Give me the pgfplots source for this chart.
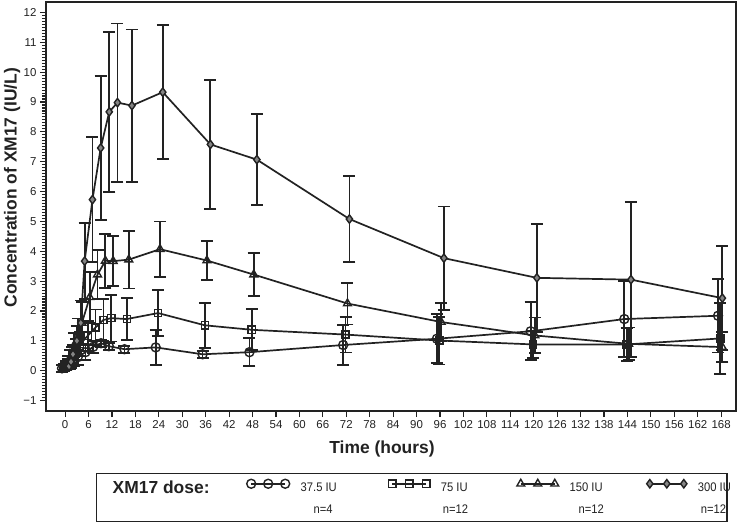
\documentclass[border=0pt]{standalone}
\usepackage{fontspec}
\setmainfont{Liberation Sans}
\newfontfamily\narrowfont[FakeStretch=0.9]{Liberation Sans}
\usepackage{pgfplots}
\pgfplotsset{compat=1.18}
\usepackage{pgfplotstable}
\definecolor{ink}{HTML}{222222}

% time (h, plotted with small group offset), mean, SD
\pgfplotstableread{
t m s
-0.8 0.08 0.12
-0.3 0.10 0.12
0.2 0.14 0.12
1.2 0.22 0.15
2.2 0.35 0.20
3.2 0.45 0.25
5.2 0.62 0.25
7.2 0.80 0.20
9.2 0.92 0.12
11.2 0.82 0.12
15.2 0.72 0.12
23.2 0.78 0.58
35.2 0.55 0.12
47.2 0.62 0.47
71.2 0.86 0.68
95.2 1.07 0.82
119.2 1.32 0.97
143.2 1.73 1.28
167.2 1.84 1.23
}\tabA
\pgfplotstableread{
t m s
-0.2 0.12 0.10
0.3 0.18 0.15
0.8 0.28 0.20
1.8 0.50 0.30
2.8 0.70 0.35
3.8 0.89 0.40
5.8 1.17 0.50
7.8 1.45 0.60
9.8 1.70 0.70
11.8 1.76 0.78
15.8 1.73 0.71
23.8 1.93 0.76
35.8 1.52 0.75
47.8 1.37 0.69
71.8 1.21 0.60
95.8 1.01 0.80
119.8 0.88 0.45
143.8 0.88 0.55
167.8 1.08 1.19
}\tabB
\pgfplotstableread{
t m s
0.3 0.12 0.10
0.8 0.25 0.15
1.3 0.45 0.25
2.3 0.85 0.40
3.3 1.20 0.55
4.3 1.60 0.70
6.3 2.46 0.85
8.3 3.22 0.82
10.3 3.68 0.90
12.3 3.67 0.83
16.3 3.72 0.97
24.3 4.07 0.93
36.3 3.69 0.66
48.3 3.22 0.73
72.3 2.25 0.70
96.3 1.63 0.65
120.3 1.18 0.60
144.3 0.90 0.55
168.3 0.79 0.50
}\tabC
\pgfplotstableread{
t m s
1.0 0.15 0.10
1.5 0.30 0.20
2.0 0.55 0.30
3.0 1.00 0.50
4.0 1.60 0.75
5.0 3.67 1.28
7.0 5.73 2.10
9.1 7.46 2.41
11.3 8.67 2.68
13.4 8.98 2.65
17.1 8.88 2.55
25.0 9.33 2.25
37.2 7.58 2.17
49.1 7.07 1.53
72.8 5.08 1.44
97.0 3.77 1.73
120.8 3.11 1.81
144.9 3.05 2.60
168.3 2.43 1.74
}\tabD

\begin{document}
\begin{tikzpicture}
\useasboundingbox (0,0) rectangle (742bp,522bp);
\begin{axis}[
  at={(46bp,111bp)}, anchor=south west,
  scale only axis, width=690bp, height=409bp,
  xmin=-4.9, xmax=171.8, ymin=-1.35, ymax=12.35,
  xtick={0,6,...,168},
  ytick={-1,0,...,12},
  yticklabels={−1,0,1,2,3,4,5,6,7,8,9,10,11,12},
  minor y tick num=9,
  tick align=outside, tick pos=left,
  major tick length=6bp, minor tick length=4bp,
  tick style={ink, line width=1.1bp},
  axis line style={ink, line width=1.4bp},
  ticklabel style={font=\fontsize{11.5}{13}\selectfont, text=ink},
  /pgf/number format/assume math mode=true,
  xlabel={Time (hours)},
  ylabel={Concentration of XM17 (IU/L)},
  label style={font=\bfseries\fontsize{17.5}{20}\selectfont, text=ink},
  xlabel style={at={(axis description cs:0.487,-0.093)}, anchor=center},
  ylabel style={at={(axis description cs:-0.049,0.546)}, anchor=center},
  every axis plot/.append style={ink, line width=1.7bp},
  error bars/y dir=both, error bars/y explicit,
  error bars/error bar style={ink, line width=1.8bp, solid},
  error bars/error mark options={ink, line width=1.8bp, mark size=6bp, rotate=90},
  legend columns=5,
  legend image code/.code={\draw[#1, line width=1.5bp] plot coordinates {(0bp,4bp) (17bp,4bp) (34bp,4bp)};},
  legend style={at={(axis description cs:0.0725,-0.1516)}, anchor=north west,
    draw=ink, line width=1.4bp, fill=white,
    font=\narrowfont\fontsize{12.5}{15}\selectfont, text=ink,
    inner xsep=5bp, inner ysep=5bp, column sep=0pt, row sep=6bp,
    /tikz/every odd column/.append style={column sep=9bp}},
  legend cell align=left,
]
\addlegendimage{empty legend}
\addlegendentry{\makebox[132bp][l]{\normalfont\bfseries\fontsize{17.5}{20}\selectfont XM17 dose:}}

\addplot[mark=o, mark size=4.5bp, mark options={solid, line width=1.4bp}]
  table[x=t, y=m, y error=s] {\tabA};
\addlegendentry{\makebox[86bp][l]{37.5 IU}}

\addplot[mark=square, mark size=3.6bp, mark options={solid, line width=1.4bp}]
  table[x=t, y=m, y error=s] {\tabB};
\addlegendentry{\makebox[74bp][l]{75 IU}}

\addplot[mark=triangle, mark size=4.5bp, mark options={solid, line width=1.4bp}]
  table[x=t, y=m, y error=s] {\tabC};
\addlegendentry{\makebox[75bp][l]{150 IU}}

\addplot[mark=diamond*, mark size=4.2bp, mark options={solid, line width=1.4bp, fill=ink!55}]
  table[x=t, y=m, y error=s] {\tabD};
\addlegendentry{\makebox[22bp][l]{300 IU}}

\addlegendimage{empty legend}\addlegendentry{\rule[-9bp]{0pt}{9bp}}
\addlegendimage{empty legend}\addlegendentry{\makebox[0pt][l]{\hspace*{13bp}n=4}}
\addlegendimage{empty legend}\addlegendentry{\makebox[0pt][l]{\hspace*{2bp}n=12}}
\addlegendimage{empty legend}\addlegendentry{\makebox[0pt][l]{\hspace*{9bp}n=12}}
\addlegendimage{empty legend}\addlegendentry{\makebox[0pt][l]{\hspace*{3bp}n=12}}
\end{axis}
\end{tikzpicture}
\end{document}
